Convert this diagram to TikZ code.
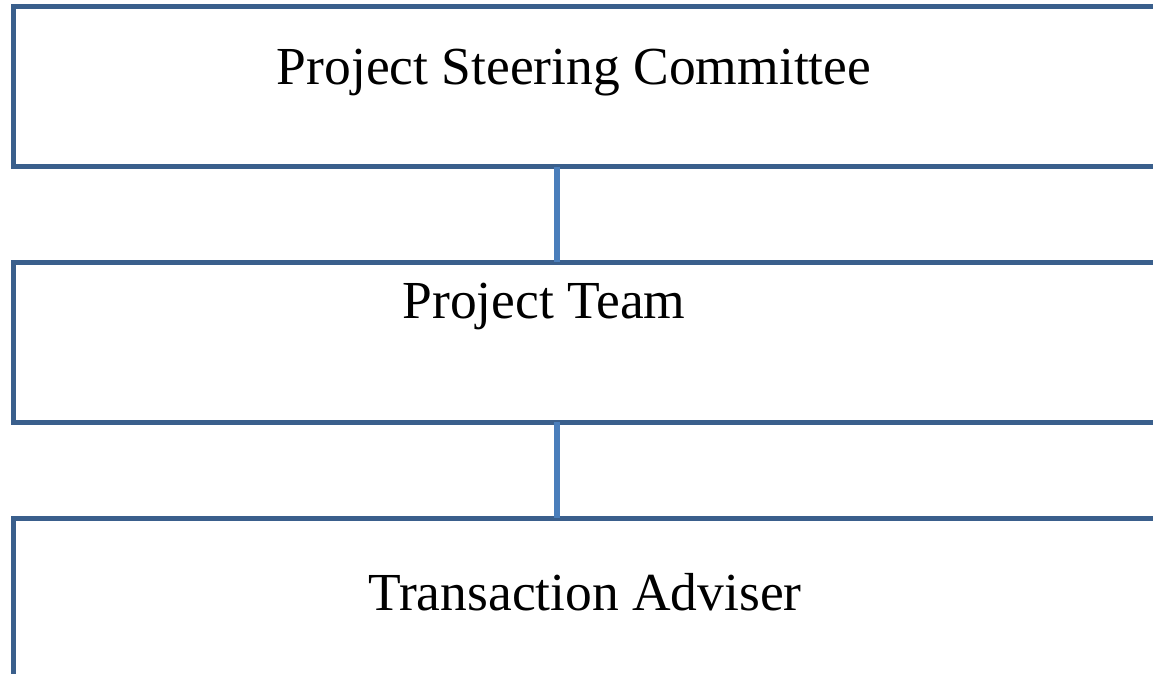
\documentclass[tikz,border=0pt]{standalone}
\usepackage{fontspec}
\setmainfont{Liberation Serif}
\usepackage{tikz}
\usetikzlibrary{calc}
\definecolor{boxblue}{RGB}{58,95,140}
\definecolor{linkblue}{RGB}{74,126,187}
\tikzset{
	orgbox/.style={draw=boxblue, line width=5pt, rectangle, outer sep=0pt, inner sep=0pt, anchor=north west, minimum width=1200pt, minimum height=160pt},
	orglabel/.style={font=\fontsize{53.5}{64}\selectfont, text=black, inner sep=0pt, anchor=base},
	orglink/.style={draw=linkblue, line width=6pt}
}

\begin{document}
\begin{tikzpicture}[x=1pt, y=-1pt]
		%%%%% START %%%%%
		
		\useasboundingbox (0, 0) rectangle (1153, 674);
		\clip (0, 0) rectangle (1153, 674);
		\fill[white] (0, 0) rectangle (1153, 674);
		
		\coordinate (spine) at (557, 0);
		
		\node[orgbox] (steering) at (13.5, 6.5) {};
		\node[orgbox] (team) at (13.5, 262) {};
		\node[orgbox] (adviser) at (13.5, 518) {};
		
		\draw[orglink] (steering.south -| spine) -- (team.north -| spine);
		\draw[orglink] (team.south -| spine) -- (adviser.north -| spine);
		
		\node[orglabel] (steering-text) at (574, 85) {Project Steering Committee};
		\node[orglabel] (team-text) at (544, 318) {Project Team};
		\node[orglabel] (adviser-text) at (585, 610) {Transaction Adviser};
		
		%%%%% END %%%%%
	\end{tikzpicture}
\end{document}
